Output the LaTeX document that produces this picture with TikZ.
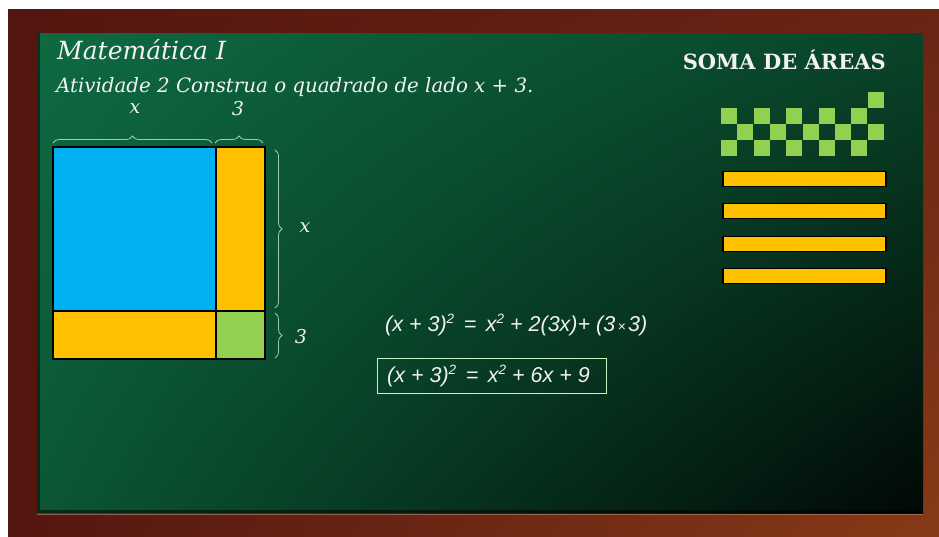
\documentclass[tikz,border=0pt]{standalone}
\usepackage{fontspec}
\setmainfont{DejaVu Serif}
\newfontfamily\eqfont{Liberation Sans}
\usetikzlibrary{decorations.pathreplacing,shadings}
\definecolor{wooddark}{HTML}{531610}
\definecolor{woodmid}{HTML}{6A2414}
\definecolor{woodlight}{HTML}{873A18}
\definecolor{boardA}{HTML}{0E6A42}
\definecolor{boardB}{HTML}{094429}
\definecolor{boardC}{HTML}{0B5734}
\definecolor{boardD}{HTML}{010805}
\definecolor{sqblue}{HTML}{00B0F0}
\definecolor{sqorange}{HTML}{FFC000}
\definecolor{sqgreen}{HTML}{92D050}
\definecolor{chalk}{HTML}{F2F2F2}
\newcommand{\sqd}{\raisebox{0.72ex}{\fontsize{13.5}{15}\selectfont 2}}
\tikzset{
  tile/.style={draw=black, line width=1.8pt, inner sep=0pt, outer sep=0pt},
  bar/.style={draw=black, line width=1.5pt, fill=sqorange, inner sep=0pt, minimum width=163pt, minimum height=15pt},
  cell/.style={fill=sqgreen, inner sep=0pt, minimum size=16pt},
  bracestyle/.style={draw=chalk!85!green, opacity=0.75, line width=0.8pt, decorate},
  lbl/.style={text=chalk, font=\itshape\fontsize{19}{22}\selectfont, inner sep=0pt},
  eq/.style={text=chalk, font=\eqfont\itshape\fontsize{21.5}{25}\selectfont, inner sep=0pt, anchor=west}
}
\begin{document}
\begin{tikzpicture}[x=1pt,y=-1pt]
\useasboundingbox (0,0) rectangle (939,536);
\fill[white] (0,0) rectangle (939,536);
% wooden frame
\shade[upper left=wooddark, upper right=woodmid, lower left=wooddark, lower right=woodlight] (8,9) rectangle (939,536);
% board
\shade[upper left=boardA, upper right=boardB, lower left=boardC, lower right=boardD] (37,33) rectangle (923,513);
\draw[black, opacity=0.5, line width=3pt] (38.5,33) -- (38.5,511.5) -- (923,511.5);
\draw[woodlight!60!white, opacity=0.6, line width=0.8pt] (37,514) -- (923,514);

% titles
\node[text=chalk, font=\itshape\fontsize{25}{28}\selectfont, anchor=west, inner sep=0pt] (title) at (57,50) {Matemática I};
\node[text=chalk, font=\itshape\fontsize{19.8}{23}\selectfont, anchor=west, inner sep=0pt] (task) at (56,87) {Atividade 2 Construa o quadrado de lado x + 3.};
\node[text=chalk, font=\bfseries\fontsize{21}{25}\selectfont, anchor=east, inner sep=0pt] (soma) at (886,60) {SOMA DE ÁREAS};

% square decomposition
\node[tile, fill=sqblue, minimum width=163pt, minimum height=164pt] (xx) at (134.5,229) {};
\node[tile, fill=sqorange, minimum width=49pt, minimum height=164pt] (x3) at (240.5,229) {};
\node[tile, fill=sqorange, minimum width=163pt, minimum height=48pt] (3x) at (134.5,335) {};
\node[tile, fill=sqgreen, minimum width=49pt, minimum height=48pt] (33) at (240.5,335) {};

% braces
\draw[bracestyle, decoration={brace, amplitude=7pt}] (53,143) -- (212,143);
\draw[bracestyle, decoration={brace, amplitude=7pt}] (215,143) -- (263,143);
\draw[bracestyle, decoration={brace, amplitude=7pt}] (275,150) -- (275,308);
\draw[bracestyle, decoration={brace, amplitude=7pt}] (275,313) -- (275,358);
\node[lbl] (lx1) at (135,109) {x};
\node[lbl] (l31) at (238,109) {3};
\node[lbl] (lx2) at (305,228) {x};
\node[lbl] (l32) at (301,337) {3};

% equations
\node[eq] (eq1) at (385,325) {(x + 3)\sqd\ \,=\, x\sqd\ + 2(3x)+ (3{\fontsize{14}{15}\selectfont\,×\,}3)};
\node[eq] (eq2) at (387,376) {(x + 3)\sqd\ \,=\, x\sqd\ + 6x + 9};
\draw[chalk!80!green, line width=0.8pt] (377,358) rectangle (606,393);

% unit squares
\node[cell] (c09) at (876,100) {};
\foreach \c in {0,2,4,6,8} {
  \node[cell] (c1\c) at (729+16.3*\c,116) {};
  \node[cell] (c3\c) at (729+16.3*\c,148) {};
}
\foreach \c in {1,3,5,7,9} {
  \node[cell] (c2\c) at (729+16.3*\c,132) {};
}
% bars
\node[bar] (b1) at (804.5,179) {};
\node[bar] (b2) at (804.5,211) {};
\node[bar] (b3) at (804.5,244) {};
\node[bar] (b4) at (804.5,276) {};
\end{tikzpicture}
\end{document}
